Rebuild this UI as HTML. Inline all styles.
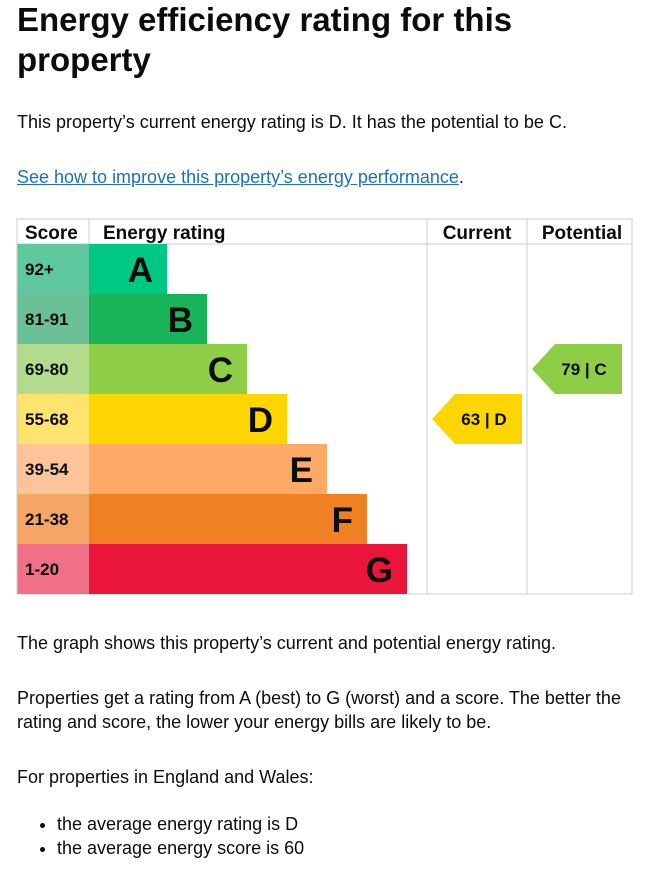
<!DOCTYPE html>
<html><head><meta charset="utf-8">
<style>
body{margin:0;background:#fff;font-family:"Liberation Sans",Arial,sans-serif;color:#0b0c0c;width:672px;height:874px;overflow:hidden;position:relative}
.t{position:absolute;left:17px;margin:0}
h1{font-size:33px;line-height:40px;font-weight:bold;top:0px}
p,li{font-size:18px;line-height:24px}
a{color:#1d70b8;text-decoration:underline}
ul{position:absolute;left:17px;top:812px;margin:0;padding-left:40px}
svg{position:absolute;left:0;top:0}
</style></head><body>
<h1 class="t">Energy efficiency rating for this<br>property</h1>
<p class="t" style="top:110px">This property’s current energy rating is D. It has the potential to be C.</p>
<p class="t" style="top:165px"><a href="#">See how to improve this property’s energy performance</a>.</p>
<svg id="chart" width="672" height="620"></svg>
<p class="t" style="top:631px">The graph shows this property’s current and potential energy rating.</p>
<p class="t" style="top:686px;width:640px">Properties get a rating from A (best) to G (worst) and a score. The better the rating and score, the lower your energy bills are likely to be.</p>
<p class="t" style="top:765px">For properties in England and Wales:</p>
<ul>
<li>the average energy rating is D</li>
<li>the average energy score is 60</li>
</ul>
<script>
const bands=["A","B","C","D","E","F","G"];
const ranges=["92+","81-91","69-80","55-68","39-54","21-38","1-20"];
const barColors=["#00c781","#19b459","#8dce46","#ffd500","#fcaa65","#ef8023","#e9153b"];
const scoreColors=["#5fc7a0","#6cc095","#b3db8c","#ffe36f","#fdc49a","#f5a566","#f07187"];
const currentScore=63,currentBand="D";
const potentialScore=79,potentialBand="C";
(function(){
const NS="http://www.w3.org/2000/svg",svg=document.getElementById('chart');
function mk(t,a,txt){const e=document.createElementNS(NS,t);for(const k in a)e.setAttribute(k,a[k]);if(txt!=null)e.textContent=txt;svg.appendChild(e);return e;}
const L=17,R=632,T0=219,hh=25,rh=50,c1=89,c2=427,c3=527;
const rowY=i=>T0+hh+i*rh;
const barEnd=i=>167+i*40;
const bandIndex=b=>bands.indexOf(b);
const g=mk('rect',{x:L,y:T0,width:R-L,height:hh+rh*7,fill:'none',stroke:'#ccc','stroke-width':1});


[c1,c2,c3].forEach(x=>{const l=mk('line',{x1:x,y1:T0,x2:x,y2:T0+hh+rh*7,stroke:'#ccc'});

});
const hl=mk('line',{x1:L,y1:T0+hh,x2:R,y2:T0+hh,stroke:'#ccc'});


const hs={'font-family':'Liberation Sans,Arial,sans-serif','font-size':19,'font-weight':'bold',fill:'#0b0c0c'};
[["Score",25,'start'],["Energy rating",103,'start'],["Current",477,'middle'],["Potential",582,'middle']].forEach(h=>{const t=mk('text',Object.assign({x:h[1],y:T0+20,'text-anchor':h[2]},hs),h[0]);

});
bands.forEach((b,i)=>{
 const y=rowY(i);
 const s=mk('rect',{x:L+0.5,y:y,width:c1-L-0.5,height:rh,fill:scoreColors[i]});
 
 
 const st=mk('text',{x:25,y:y+31,'font-family':'Liberation Sans,Arial,sans-serif','font-size':17,'font-weight':'bold',fill:'#0b0c0c'},ranges[i]);
 
 
 const r=mk('rect',{x:c1,y:y,width:barEnd(i)-c1,height:rh,fill:barColors[i]});
 
 
 const lt=mk('text',{x:barEnd(i)-14,y:y+38,'text-anchor':'end','font-family':'Liberation Sans,Arial,sans-serif','font-size':35,'font-weight':'bold',fill:'#0b0c0c'},b);
 
 
});
function arrow(x0,score,band,name){
 const i=bandIndex(band),y=rowY(i),w=90;
 const p=mk('polygon',{points:`${x0},${y+25} ${x0+23},${y} ${x0+w},${y} ${x0+w},${y+rh} ${x0+23},${y+rh}`,fill:barColors[i]});
 
 
 const t=mk('text',{x:x0+52,y:y+31,'text-anchor':'middle','font-family':'Liberation Sans,Arial,sans-serif','font-size':17,'font-weight':'bold',fill:'#0b0c0c'},score+' | '+band);
 
 
}
arrow(432,currentScore,currentBand,'current-rating');
arrow(532,potentialScore,potentialBand,'potential-rating');
})();
</script>
</body></html>
